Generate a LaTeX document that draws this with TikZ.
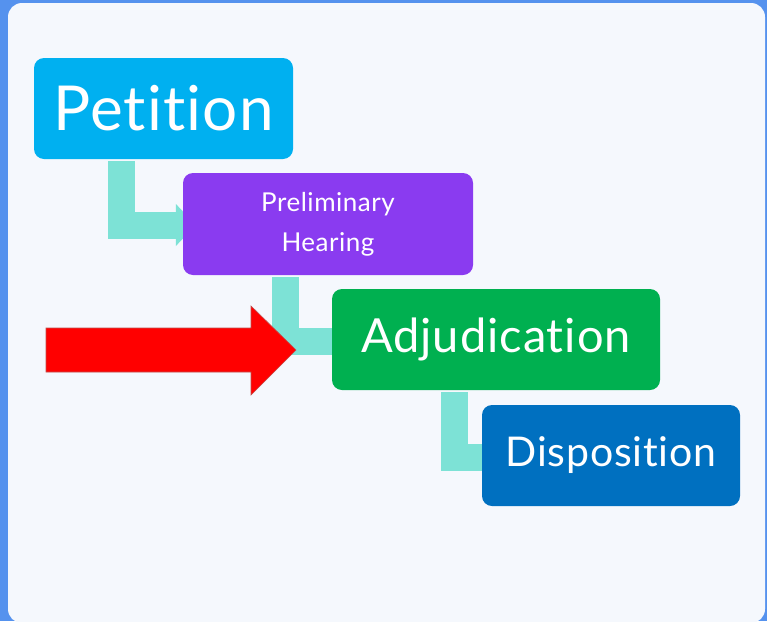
\documentclass[tikz,border=0pt]{standalone}
\usepackage{fontspec}
\setmainfont{Lato}[Ligatures=NoCommon, LetterSpace=2]
\usetikzlibrary{arrows.meta}
\definecolor{outerblue}{HTML}{5592EE}
\definecolor{panel}{HTML}{F5F8FD}
\definecolor{petc}{HTML}{00B0F0}
\definecolor{prec}{HTML}{8A3BF0}
\definecolor{adjc}{HTML}{00B050}
\definecolor{disc}{HTML}{0070C0}
\definecolor{teal}{HTML}{7DE2D6}
\definecolor{redline}{HTML}{C0504D}
\pgfdeclarelayer{bg}
\pgfdeclarelayer{conn}
\pgfsetlayers{bg,conn,main}
\tikzset{
  stagebox/.style={rectangle, rounded corners=10pt, text=white, inner sep=0pt, align=center},
  elbow/.style={draw=teal, line width=27pt, line join=miter, -{Triangle[length=20pt,width=41pt]}},
}
\begin{document}
\begin{tikzpicture}[x=1pt,y=-1pt]
\useasboundingbox (0,0) rectangle (767,621);
\begin{pgfonlayer}{bg}
\fill[outerblue] (0,0) rectangle (767,621);
\fill[panel, rounded corners=14pt] (8,3) rectangle (765,623);
\end{pgfonlayer}
\node[stagebox, fill=petc, minimum width=259pt, minimum height=101pt, font=\fontsize{62}{62}\selectfont] (pet) at (163.5,108.5) {Petition};
\node[stagebox, fill=prec, minimum width=290pt, minimum height=102pt, font=\fontsize{26}{40}\selectfont] (pre) at (328,224) {Preliminary\\Hearing};
\node[stagebox, fill=adjc, minimum width=328pt, minimum height=101pt, font=\fontsize{47}{47}\selectfont] (adj) at (496,339.5) {Adjudication};
\node[stagebox, fill=disc, minimum width=258pt, minimum height=101pt, font=\fontsize{41}{41}\selectfont] (dis) at (611,455.5) {Disposition};
\begin{pgfonlayer}{conn}
\draw[elbow] ([xshift=87.5pt,yshift=-2pt]pet.south west) |- ([xshift=13pt,yshift=-1pt]pre.west);
\draw[elbow] ([xshift=102.5pt,yshift=-2pt]pre.south west) |- ([xshift=21pt,yshift=-2pt]adj.west);
\draw[elbow] ([xshift=122.5pt,yshift=-2pt]adj.south west) |- ([xshift=21pt,yshift=-1.5pt]dis.west);
\end{pgfonlayer}
\draw[fill=red, draw=redline, line width=0.6pt] (46,328) -- (251,328) -- (251,306) -- (296,350) -- (251,395) -- (251,372) -- (46,372) -- cycle;
\end{tikzpicture}
\end{document}
